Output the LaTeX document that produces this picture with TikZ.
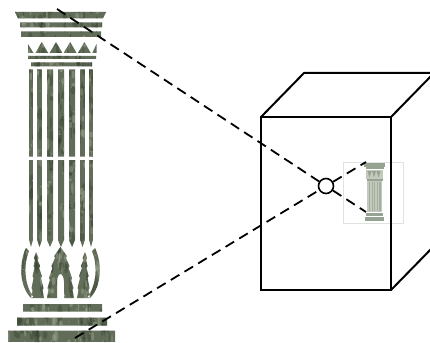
\documentclass[tikz,border=0pt]{standalone}
\usetikzlibrary{calc}
\definecolor{stone}{HTML}{616D58}
\definecolor{stonedark}{HTML}{34402F}
\definecolor{stonelight}{HTML}{A7AF98}
\definecolor{minicol}{HTML}{C3CABD}
\definecolor{minidark}{HTML}{97A392}
\definecolor{framegray}{HTML}{E2E2E2}
\begin{document}
\begin{tikzpicture}[x=1pt,y=-1pt,
  ray/.style={line width=1.8pt, dash pattern=on 10pt off 6pt, black},
  boxedge/.style={line width=2pt, line join=miter, black},
  hole/.style={circle, draw, line width=1.6pt, fill=white, minimum size=15pt, inner sep=0pt}]
\useasboundingbox (0,0) rectangle (430,342);

% ---------- outline of the stencilled column ----------
\def\colshape{
  % abacus and mouldings
  (15,12) -- (106,12) -- (103,18.5) -- (18,18.5) -- cycle
  (20,22.5) rectangle (102,27.5)
  (21,31.5) rectangle (101,37)
  % frieze of triangles
  (28,44) -- (28,53) -- (33.5,53) -- cycle
  (35.4,53) -- (41.8,42) -- (48.2,53) -- cycle
  (49.6,53) -- (56,42) -- (62.4,53) -- cycle
  (63.8,53) -- (70.2,42) -- (76.6,53) -- cycle
  (78,53) -- (84.4,42) -- (90.8,53) -- cycle
  (96.5,44) -- (96.5,53) -- (92.3,53) -- cycle
  % necking
  (28,56) rectangle (96,59)
  (31,62.5) rectangle (92,66.5)
  % flutes, upper and lower drums
  \foreach \c/\w in {31/3.8, 39.5/4.8, 50/6, 61/6, 72/6, 82.5/4.8, 91/3.8}{
    (\c-\w/2,69.5) rectangle (\c+\w/2,156.5)
    (\c-\w/2,160) -- (\c+\w/2,160) -- (\c+\w/2,240) -- (\c,247) -- (\c-\w/2,240) -- cycle
  }
  % acanthus leaves: outer curls
  (26,248) .. controls (19,262) and (19,286) .. (31,298) -- (33.5,297)
     .. controls (24,285) and (23.5,264) .. (29,251) -- cycle
  (95,248) .. controls (102,262) and (102,286) .. (90,298) -- (87.5,297)
     .. controls (97,285) and (97.5,264) .. (92,251) -- cycle
  % inner leaves
  (36,252) -- (38.5,258) -- (37.5,260) -- (40,266) -- (39,268) -- (42,276) -- (41,278)
     -- (43.5,288) -- (42.5,290) -- (44,298) -- (31,298) -- (32.5,290) -- (31.5,288)
     -- (33.5,278) -- (32.5,276) -- (34.5,268) -- (33.5,266) -- (35,260) -- (34,258) -- cycle
  (85,252) -- (82.5,258) -- (83.5,260) -- (81,266) -- (82,268) -- (79,276) -- (80,278)
     -- (77.5,288) -- (78.5,290) -- (77,298) -- (90,298) -- (88.5,290) -- (89.5,288)
     -- (87.5,278) -- (88.5,276) -- (86.5,268) -- (87.5,266) -- (86,260) -- (87,258) -- cycle
  % central leaf with its slit
  (47,298) -- (48.5,290) -- (47.5,288) -- (50,280) -- (49,278) -- (52.5,268) -- (51.5,266)
     -- (55,258) -- (54.2,256) -- (60.5,247) -- (66.8,256) -- (66,258) -- (69.5,266)
     -- (68.5,268) -- (72,278) -- (71,280) -- (73.5,288) -- (72.5,290) -- (74,298)
     -- (64,298) -- (64,282) .. controls (64,276) and (61.5,274) .. (60.5,274)
     .. controls (59.5,274) and (57,276) .. (57,282) -- (57,298) -- cycle
  % base mouldings and plinth
  (23,304) rectangle (102,311.5)
  (17,317.5) rectangle (107,325.5)
  (8,330.5) rectangle (115,342)
}

% ---------- the column, filled with a mottled stone texture ----------
\begin{scope}
  \clip \colshape;
  \fill[stone] (0,0) rectangle (125,342);
  \pgfmathsetseed{11}
  \foreach \i in {1,...,500}{
    \pgfmathsetmacro\xa{4+rnd*118}
    \pgfmathsetmacro\ya{8+rnd*336}
    \pgfmathsetmacro\ra{0.6+rnd*2.2}
    \pgfmathsetmacro\rb{1.5+rnd*7}
    \fill[stonedark, opacity=0.4] (\xa,\ya) ellipse [x radius=\ra pt, y radius=\rb pt];
  }
  \foreach \i in {1,...,380}{
    \pgfmathsetmacro\xa{4+rnd*118}
    \pgfmathsetmacro\ya{8+rnd*336}
    \pgfmathsetmacro\ra{0.5+rnd*1.8}
    \pgfmathsetmacro\rb{1+rnd*5}
    \fill[stonelight, opacity=0.4] (\xa,\ya) ellipse [x radius=\ra pt, y radius=\rb pt];
  }
  \foreach \i in {1,...,120}{
    \pgfmathsetmacro\xa{4+rnd*118}
    \pgfmathsetmacro\ya{8+rnd*336}
    \fill[white, opacity=0.4] (\xa,\ya) circle [radius=0.5pt];
  }
\end{scope}

% ---------- small image of the column on the back wall ----------
\draw[framegray, line width=0.5pt] (343,162) rectangle (403,223);
\begin{scope}
  \fill[minidark] (364,163) rectangle (385,166.5);
  \fill[minidark] (365.5,167.3) rectangle (383.5,169.3);
  \fill[minicol] (366,170) rectangle (383,178.5);
  \foreach \t in {367.5,372,376.5}
    \fill[minidark] (\t,171) -- (\t+4,171) -- (\t+2,177.5) -- cycle;
  \fill[minidark] (366.5,179) rectangle (382.5,180.5);
  \fill[minicol] (367,181) rectangle (382,212);
  \foreach \f in {369,371.6,374.2,376.8,379.4}
    \fill[minidark, opacity=0.7] (\f,182) rectangle (\f+1.2,211);
  \fill[minidark] (366,212.5) rectangle (383,215.5);
  \fill[minidark] (365,216.5) rectangle (384,221);
\end{scope}

% ---------- the camera box ----------
\coordinate (fTL) at (261,117);
\coordinate (fTR) at (391,117);
\coordinate (fBR) at (391,290);
\coordinate (fBL) at (261,290);
\coordinate (bTL) at (304,73);
\coordinate (bTR) at (434,73);
\coordinate (bBR) at (434,246);
\draw[boxedge] (fTL) -- (fTR) -- (fBR) -- (fBL) -- cycle;
\draw[boxedge] (fTL) -- (bTL) -- (bTR) -- (fTR);
\draw[boxedge] (bTR) -- (bBR) -- (fBR);

% ---------- rays through the pinhole ----------
\coordinate (objTop) at (57,9);
\coordinate (objBot) at (75,338);
\coordinate (imgTop) at (366,162);
\coordinate (imgBot) at (366,212);
\node[hole] (pin) at (326,186) {};
\draw[ray] (objTop) -- (pin);
\draw[ray] (pin) -- (imgBot);
\draw[ray] (objBot) -- (pin);
\draw[ray] (pin) -- (imgTop);
\end{tikzpicture}
\end{document}
